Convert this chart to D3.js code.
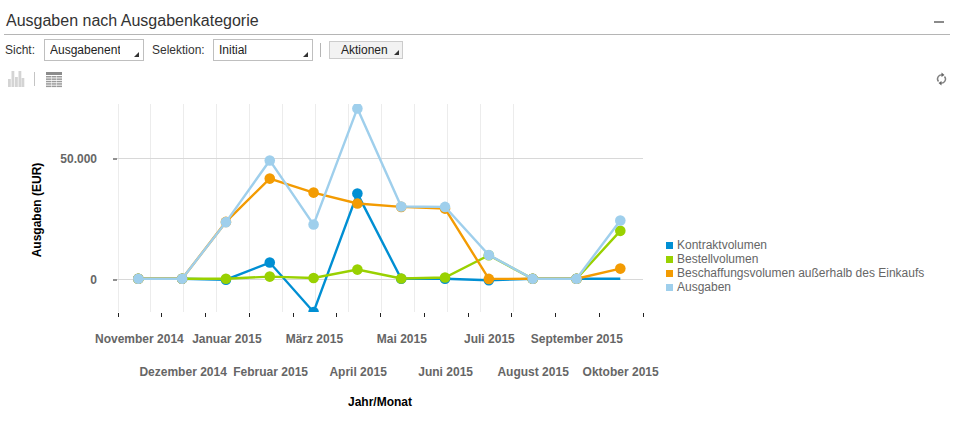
<!DOCTYPE html>
<html>
<head>
<meta charset="utf-8">
<style>
  html, body { margin: 0; padding: 0; background: #fff; overflow: hidden; }
  svg { display: block; font-family: "Liberation Sans", Arial, sans-serif; }
</style>
</head>
<body>
<div class="canvas"></div>
<script src="https://cdn.jsdelivr.net/npm/d3@7"></script>
<script>
// Data
const months = ['November 2014', 'Dezember 2014', 'Januar 2015', 'Februar 2015', 'März 2015', 'April 2015',
    'Mai 2015', 'Juni 2015', 'Juli 2015', 'August 2015', 'September 2015', 'Oktober 2015'];
const kontraktvolumen = [300, 300, -100, 7000, -13400, 35500, 300, 300, -300, 300, 300, 300];
const bestellvolumen = [300, 300, 300, 1200, 650, 4100, 400, 800, 10000, 300, 300, 20100];
const beschaffungsvolumen = [300, 300, 23800, 41700, 35900, 31400, 30000, 29300, 250, 300, 300, 4500];
const ausgaben = [300, 300, 23700, 49200, 22700, 70700, 30150, 30000, 10150, 300, 300, 24400];
const yTicks = [0, 50000];
const seriesNames = ['Kontraktvolumen', 'Bestellvolumen', 'Beschaffungsvolumen außerhalb des Einkaufs', 'Ausgaben'];
const seriesValues = [kontraktvolumen, bestellvolumen, beschaffungsvolumen, ausgaben];
const seriesColors = ['#008fd3', '#99d101', '#f39b02', '#9fcfec'];
// The blue series has no dot on its last month in the original
const noDot = { Kontraktvolumen: ['Oktober 2015'] };

const svg = d3.select('.canvas')
    .append('svg')
    .attr('width', 955)
    .attr('height', 427);

const textGrey = '#666';

// Header
svg.append('text').attr('x', 6).attr('y', 26).attr('fill', '#333').style('font-size', '16px')
    .text('Ausgaben nach Ausgabenkategorie');
svg.append('line').attr('x1', 4).attr('x2', 950).attr('y1', 34.5).attr('y2', 34.5).attr('stroke', '#b5b5b5');
svg.append('rect').attr('x', 934).attr('y', 21).attr('width', 10).attr('height', 2).attr('fill', '#8a8a8a');

// Toolbar
function label(x, txt) {
    svg.append('text').attr('x', x).attr('y', 54).attr('fill', '#333').style('font-size', '12px').text(txt);
}
function corner(x, y) {
    svg.append('path').attr('d', `M${x},${y}l5,0l0,-5z`).attr('fill', '#333');
}
function dropdown(x, txt, id) {
    svg.append('rect').attr('x', x + 0.5).attr('y', 39.5).attr('width', 99).attr('height', 21)
        .attr('fill', '#fff').attr('stroke', '#bfbfbf');
    svg.append('clipPath').attr('id', id).append('rect').attr('x', x + 6).attr('y', 40).attr('width', 70).attr('height', 20);
    svg.append('text').attr('x', x + 6).attr('y', 54).attr('fill', '#222').attr('clip-path', `url(#${id})`)
        .style('font-size', '12px').text(txt);
    corner(x + 90, 57);
}
label(5, 'Sicht:');
dropdown(44, 'Ausgabenent', 'clipSicht');
label(152, 'Selektion:');
dropdown(213, 'Initial', 'clipSelektion');
svg.append('rect').attr('x', 320).attr('y', 43).attr('width', 1).attr('height', 14).attr('fill', '#b5b5b5');
svg.append('rect').attr('x', 329.5).attr('y', 41.5).attr('width', 73).attr('height', 17)
    .attr('fill', '#f2f2f2').attr('stroke', '#ccc');
svg.append('text').attr('x', 341).attr('y', 54).attr('fill', '#222').style('font-size', '12px').text('Aktionen');
corner(394, 55);

// Toolbar icons
[[8, 8, 79], [11.5, 16, 71], [15, 10, 77], [18.5, 16, 71], [21.5, 9, 78]].forEach(b => {
    svg.append('rect').attr('x', b[0]).attr('y', b[2]).attr('width', 2.8).attr('height', b[1]).attr('fill', '#d4d4d4');
});
svg.append('rect').attr('x', 34).attr('y', 72).attr('width', 1).attr('height', 14).attr('fill', '#c4c4c4');
svg.append('rect').attr('x', 46).attr('y', 72).attr('width', 16).attr('height', 3).attr('fill', '#8c8c8c');
d3.range(76, 87, 2.4).forEach(y => {
    [46, 51.5, 57].forEach(x => {
        svg.append('rect').attr('x', x).attr('y', y).attr('width', 5).attr('height', 1.5).attr('fill', '#9a9a9a');
    });
});

// Refresh icon
const refresh = svg.append('g').attr('transform', 'translate(941.5,79)').attr('fill', 'none').attr('stroke', '#808080').attr('stroke-width', 1.4);
refresh.append('path').attr('d', 'M-3,2.5A4,4 0 0 1 1,-4');
refresh.append('path').attr('d', 'M3,-2.5A4,4 0 0 1 -1,4');
refresh.append('path').attr('d', 'M0,-6.5l3,2.5l-3,2z').attr('fill', '#666').attr('stroke', 'none');
refresh.append('path').attr('d', 'M0,6.5l-3,-2.5l3,-2z').attr('fill', '#666').attr('stroke', 'none');

// Scales: bands carry ticks and labels, the points sit slightly off the band centres
const x = d3.scaleBand().domain(months).range([117.5, 642.5]);
const xPoint = d3.scalePoint().domain(months).range([138.3, 620.3]);
const y = d3.scaleLinear().domain([0, 50000]).range([279.5, 158.5]);
const plotTop = 104;
const plotBottom = 312;

// Vertical grid lines are not aligned with the bands in the original
const gridX = d3.scaleLinear().domain([0, 12]).range([117.5, 512.5]);
svg.append('g').selectAll('line')
    .data(d3.range(13))
    .join('line')
    .attr('x1', d => Math.round(gridX(d)) + 0.5)
    .attr('x2', d => Math.round(gridX(d)) + 0.5)
    .attr('y1', plotTop)
    .attr('y2', plotBottom)
    .attr('stroke', '#ececec');

// Horizontal grid lines
svg.append('g').selectAll('line')
    .data(yTicks)
    .join('line')
    .attr('x1', 117)
    .attr('x2', 643)
    .attr('y1', d => y(d))
    .attr('y2', d => y(d))
    .attr('stroke', '#d8d8d8');

// Y axis
const yAxis = svg.append('g')
    .attr('transform', 'translate(117,0)')
    .call(d3.axisLeft(y).tickValues(yTicks).tickSize(4).tickPadding(16).tickFormat(d => d3.format(',')(d).replace(',', '.')));
yAxis.select('.domain').remove();
yAxis.selectAll('line').attr('stroke', '#222');
yAxis.selectAll('text').attr('fill', textGrey).style('font-size', '12px').style('font-weight', 'bold')
    .style('font-family', '"Liberation Sans", Arial, sans-serif');

// X axis: labels staggered in two rows, ticks on the band edges
const xAxis = svg.append('g')
    .attr('transform', `translate(0,${plotBottom})`)
    .call(d3.axisBottom(x).tickSize(0));
xAxis.select('.domain').remove();
xAxis.selectAll('text')
    .attr('y', (d, i) => i % 2 ? 64 : 31)
    .attr('dy', 0)
    .attr('fill', textGrey)
    .style('font-size', '12px')
    .style('font-weight', 'bold')
    .style('font-family', '"Liberation Sans", Arial, sans-serif');
svg.append('g').selectAll('line')
    .data(months.map(m => x(m)).concat(x.range()[1]))
    .join('line')
    .attr('x1', d => Math.round(d) + 0.5)
    .attr('x2', d => Math.round(d) + 0.5)
    .attr('y1', 313)
    .attr('y2', 317)
    .attr('stroke', '#222');

// Axis titles
svg.append('text').attr('x', 380).attr('y', 406).attr('text-anchor', 'middle').attr('fill', '#000')
    .style('font-size', '12px').style('font-weight', 'bold').text('Jahr/Monat');
svg.append('text').attr('transform', 'translate(41,210) rotate(-90)').attr('text-anchor', 'middle').attr('fill', '#000')
    .style('font-size', '12px').style('font-weight', 'bold').text('Ausgaben (EUR)');

// Lines and dots, cut off at the plot edges
svg.append('clipPath').attr('id', 'plotClip').append('rect')
    .attr('x', 117).attr('y', plotTop).attr('width', 526).attr('height', plotBottom - plotTop);
const plot = svg.append('g').attr('clip-path', 'url(#plotClip)');
const line = d3.line()
    .x((d, i) => xPoint(months[i]))
    .y(d => y(d));

seriesNames.forEach((name, s) => {
    const g = plot.append('g');
    g.append('path')
        .attr('d', line(seriesValues[s]))
        .attr('fill', 'none')
        .attr('stroke', seriesColors[s])
        .attr('stroke-width', 2.4);
    g.selectAll('circle')
        .data(months.map((m, i) => ({ m, v: seriesValues[s][i] })).filter(d => !(noDot[name] || []).includes(d.m)))
        .join('circle')
        .attr('cx', d => xPoint(d.m))
        .attr('cy', d => y(d.v))
        .attr('r', 5.3)
        .attr('fill', seriesColors[s]);
});

// Legend
const legend = svg.append('g').selectAll('g')
    .data(seriesNames)
    .join('g')
    .attr('transform', (d, i) => `translate(666,${245 + i * 14})`);
legend.append('rect').attr('x', 0).attr('y', -3).attr('width', 7).attr('height', 7).attr('fill', (d, i) => seriesColors[i]);
legend.append('text').attr('x', 11).attr('y', 4).attr('fill', textGrey).style('font-size', '12px').text(d => d);
</script>
</body>
</html>
